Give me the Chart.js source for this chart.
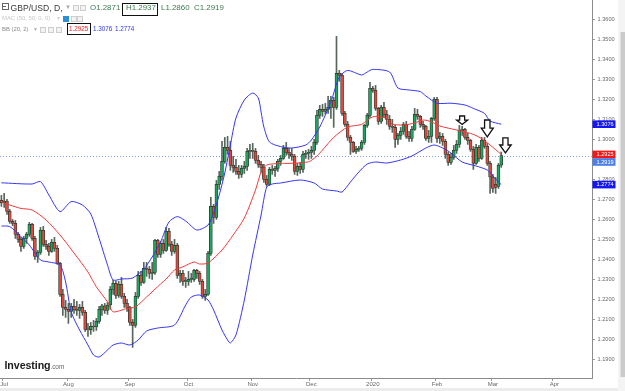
<!DOCTYPE html>
<html><head><meta charset="utf-8">
<script src="https://cdn.jsdelivr.net/npm/chart.js@4.4.1/dist/chart.umd.min.js"></script>
<style>
html,body{margin:0;padding:0;background:#fff;}
#wrap{position:relative;width:625px;height:391px;overflow:hidden;font-family:Arial,"Liberation Sans",sans-serif;}
#c{position:absolute;left:0;top:0;}
.t{position:absolute;white-space:nowrap;line-height:1;}
.ic{position:absolute;width:4px;height:4px;border:1px solid #cfcfcf;background:#f2f2f2;}
.bx{position:absolute;border:1.3px solid #111;}
</style></head>
<body>
<div id="wrap">
<canvas id="c" width="625" height="391"></canvas>
<div class="t" style="left:1.5px;top:3px;width:5px;height:5px;border:1px solid #666;"></div>
<div class="t" style="left:3px;top:6px;width:3px;height:1px;background:#666;"></div>
<div class="t" style="left:10.5px;top:3.5px;font-size:8.6px;color:#3a3a3a;">GBP/USD, D,</div>
<div class="t" style="left:65px;top:4px;font-size:6px;color:#aaa;">▼</div>
<div class="ic" style="left:73px;top:4.5px;"></div>
<div class="ic" style="left:80px;top:4.5px;"></div>
<div class="t" style="left:90px;top:4px;font-size:7.9px;color:#3c7a4e;">O1.2871</div>
<div class="bx" style="left:121.5px;top:2.5px;width:34px;height:11.5px;"></div>
<div class="t" style="left:126px;top:4px;font-size:7.9px;color:#3c7a4e;">H1.2937</div>
<div class="t" style="left:161px;top:4px;font-size:7.9px;color:#3c7a4e;">L1.2860</div>
<div class="t" style="left:194px;top:4px;font-size:7.9px;color:#3c7a4e;">C1.2919</div>
<div class="t" style="left:2px;top:15.5px;font-size:5.9px;color:#c6c6c6;">MAC (50, 50, 0, 0)</div>
<div class="t" style="left:56px;top:16px;font-size:5px;color:#ccc;">▼</div>
<div class="ic" style="left:63px;top:15.5px;border-color:#2b8fd8;background:#2b8fd8;"></div>
<div class="ic" style="left:70.5px;top:15.5px;"></div>
<div class="ic" style="left:77px;top:15.5px;"></div>
<div class="t" style="left:2px;top:26.5px;font-size:5.9px;color:#8a8a8a;">BB (20, 2)</div>
<div class="t" style="left:33px;top:27px;font-size:5px;color:#aaa;">▼</div>
<div class="ic" style="left:40px;top:26.5px;"></div>
<div class="ic" style="left:48px;top:26.5px;"></div>
<div class="ic" style="left:56px;top:26.5px;"></div>
<div class="bx" style="left:66.5px;top:22.5px;width:22px;height:10.5px;"></div>
<div class="t" style="left:69px;top:26px;font-size:6.3px;color:#ee2222;">1.2925</div>
<div class="t" style="left:93px;top:26px;font-size:6.3px;color:#2b39e8;">1.3076</div>
<div class="t" style="left:115px;top:26px;font-size:6.3px;color:#2b39e8;">1.2774</div>
<div class="t" style="left:4.5px;top:360px;font-size:10.7px;font-weight:bold;color:#1c1c1c;letter-spacing:-0.1px;">Investing<span style="font-size:6.5px;font-weight:normal;color:#666;">.com</span></div>
</div>
<script>
// ---- data ----
const startDate = '2019-06-28';
const slotCount = 212;
const monthNames = ['2020','Feb','Mar','Apr','May','Jun','Jul','Aug','Sep','Oct','Nov','Dec'];

const opens = [1.2695,1.2683,1.2692,1.2640,1.2590,1.2580,1.2525,1.2500,1.2465,1.2505,1.2525,1.2575,1.2505,1.2415,1.2435,1.2545,1.2475,1.2465,1.2440,1.2485,
1.2455,1.2380,1.2225,1.2160,1.2150,1.2140,1.2165,1.2150,1.2145,1.2160,1.2135,1.2050,1.2048,1.2065,1.2062,1.2090,1.2150,1.2168,1.2145,1.2172,
1.2250,1.2280,1.2220,1.2275,1.2215,1.2180,1.2160,1.2085,1.2070,1.2215,1.2320,1.2285,1.2355,1.2350,1.2330,1.2335,1.2495,1.2425,1.2480,1.2445,
1.2540,1.2475,1.2440,1.2470,1.2320,1.2330,1.2290,1.2290,1.2300,1.2300,1.2345,1.2330,1.2290,1.2215,1.2225,1.2430,1.2665,1.2610,1.2775,1.2815,
1.2890,1.2960,1.2945,1.2870,1.2860,1.2840,1.2825,1.2855,1.2865,1.2940,1.2945,1.2940,1.2895,1.2875,1.2860,1.2800,1.2775,1.2850,1.2845,1.2855,
1.2890,1.2905,1.2955,1.2935,1.2925,1.2915,1.2840,1.2865,1.2850,1.2925,1.2930,1.2935,1.2945,1.2985,1.3120,1.3150,1.3140,1.3150,1.3160,1.3195,
1.3160,1.3330,1.3320,1.3130,1.3075,1.3010,1.2985,1.2940,1.2950,1.2955,1.2985,1.3070,1.3120,1.3255,1.3245,1.3155,1.3090,1.3160,1.3125,1.3100,
1.3065,1.3060,1.3000,1.3020,1.3040,1.3075,1.3015,1.3005,1.3050,1.3125,1.3115,1.3075,1.3065,1.3005,1.3015,1.3105,1.3200,1.3005,1.3015,1.2990,
1.2925,1.2885,1.2910,1.2945,1.2975,1.3045,1.3050,1.3010,1.2995,1.2950,1.2880,1.2960,1.2905,1.2995,1.2965,1.2880,1.2812,1.2775,1.2765,1.2871];
const highs = [1.2720,1.2730,1.2700,1.2650,1.2600,1.2595,1.2535,1.2510,1.2515,1.2535,1.2585,1.2580,1.2515,1.2445,1.2560,1.2565,1.2495,1.2480,1.2500,1.2510,
1.2470,1.2385,1.2250,1.2195,1.2180,1.2180,1.2200,1.2190,1.2175,1.2190,1.2145,1.2080,1.2085,1.2095,1.2105,1.2165,1.2175,1.2180,1.2185,1.2265,
1.2295,1.2290,1.2290,1.2310,1.2230,1.2200,1.2165,1.2100,1.2235,1.2340,1.2340,1.2385,1.2385,1.2365,1.2385,1.2500,1.2500,1.2490,1.2500,1.2560,
1.2555,1.2490,1.2500,1.2480,1.2345,1.2345,1.2310,1.2340,1.2330,1.2350,1.2350,1.2340,1.2300,1.2250,1.2440,1.2710,1.2675,1.2795,1.2840,1.2990,
1.3010,1.3015,1.2990,1.2915,1.2900,1.2870,1.2870,1.2890,1.2955,1.2975,1.2980,1.2955,1.2920,1.2890,1.2875,1.2820,1.2860,1.2870,1.2865,1.2900,
1.2920,1.2970,1.2985,1.2955,1.2955,1.2925,1.2880,1.2885,1.2940,1.2945,1.2950,1.2965,1.3000,1.3145,1.3170,1.3175,1.3180,1.3215,1.3215,1.3210,
1.3515,1.3345,1.3330,1.3140,1.3090,1.3020,1.2990,1.2965,1.2965,1.2995,1.3075,1.3130,1.3285,1.3265,1.3270,1.3160,1.3170,1.3185,1.3145,1.3120,
1.3100,1.3070,1.3030,1.3060,1.3085,1.3090,1.3040,1.3065,1.3155,1.3150,1.3120,1.3090,1.3070,1.3045,1.3110,1.3210,1.3210,1.3035,1.3030,1.3000,
1.2935,1.2930,1.2970,1.2995,1.3070,1.3065,1.3055,1.3030,1.3000,1.2965,1.2975,1.2970,1.3010,1.3010,1.2980,1.2890,1.2825,1.2810,1.2880,1.2937];
const lows = [1.2665,1.2660,1.2625,1.2580,1.2568,1.2505,1.2485,1.2440,1.2455,1.2480,1.2515,1.2495,1.2400,1.2385,1.2425,1.2465,1.2450,1.2420,1.2435,1.2440,
1.2375,1.2215,1.2120,1.2110,1.2080,1.2110,1.2130,1.2120,1.2105,1.2120,1.2040,1.2015,1.2025,1.2040,1.2045,1.2080,1.2120,1.2130,1.2125,1.2150,
1.2225,1.2205,1.2210,1.2205,1.2160,1.2140,1.2070,1.1960,1.2060,1.2205,1.2270,1.2280,1.2315,1.2305,1.2300,1.2325,1.2410,1.2410,1.2430,1.2440,
1.2465,1.2420,1.2430,1.2305,1.2285,1.2270,1.2260,1.2270,1.2285,1.2290,1.2305,1.2275,1.2205,1.2195,1.2220,1.2420,1.2580,1.2600,1.2750,1.2795,
1.2880,1.2925,1.2845,1.2835,1.2825,1.2805,1.2810,1.2830,1.2845,1.2905,1.2905,1.2880,1.2860,1.2835,1.2785,1.2765,1.2770,1.2825,1.2815,1.2840,
1.2870,1.2900,1.2920,1.2905,1.2895,1.2825,1.2820,1.2830,1.2835,1.2905,1.2900,1.2905,1.2925,1.2975,1.3105,1.3115,1.3125,1.3130,1.3105,1.3060,
1.3150,1.3290,1.3120,1.3065,1.2995,1.2925,1.2935,1.2930,1.2940,1.2945,1.2975,1.3060,1.3110,1.3235,1.3145,1.3075,1.3080,1.3110,1.3075,1.3050,
1.3035,1.2960,1.2975,1.3000,1.3025,1.3005,1.2990,1.2990,1.3045,1.3100,1.3060,1.3050,1.2995,1.2985,1.2985,1.3095,1.2985,1.2980,1.2970,1.2905,
1.2870,1.2875,1.2900,1.2930,1.2960,1.3020,1.3000,1.2975,1.2940,1.2850,1.2875,1.2890,1.2900,1.2955,1.2870,1.2730,1.2735,1.2730,1.2755,1.2860];
const closes = [1.2683,1.2692,1.2640,1.2590,1.2580,1.2525,1.2500,1.2465,1.2505,1.2525,1.2575,1.2505,1.2415,1.2435,1.2545,1.2475,1.2465,1.2440,1.2485,1.2455,
1.2380,1.2225,1.2160,1.2150,1.2140,1.2165,1.2150,1.2145,1.2160,1.2135,1.2050,1.2048,1.2065,1.2062,1.2090,1.2150,1.2168,1.2145,1.2172,1.2250,
1.2280,1.2220,1.2275,1.2215,1.2180,1.2160,1.2085,1.2070,1.2215,1.2320,1.2285,1.2355,1.2350,1.2330,1.2335,1.2495,1.2425,1.2480,1.2445,1.2540,
1.2475,1.2440,1.2470,1.2320,1.2330,1.2290,1.2290,1.2300,1.2300,1.2345,1.2330,1.2290,1.2215,1.2225,1.2430,1.2665,1.2610,1.2775,1.2815,1.2890,
1.2960,1.2945,1.2870,1.2860,1.2840,1.2825,1.2855,1.2865,1.2940,1.2945,1.2940,1.2895,1.2875,1.2860,1.2800,1.2775,1.2850,1.2845,1.2855,1.2890,
1.2905,1.2955,1.2935,1.2925,1.2915,1.2840,1.2865,1.2850,1.2925,1.2930,1.2935,1.2945,1.2985,1.3120,1.3150,1.3140,1.3150,1.3160,1.3195,1.3160,
1.3330,1.3320,1.3130,1.3075,1.3010,1.2985,1.2940,1.2950,1.2955,1.2985,1.3070,1.3120,1.3255,1.3245,1.3155,1.3090,1.3160,1.3125,1.3100,1.3065,
1.3060,1.3000,1.3020,1.3040,1.3075,1.3015,1.3005,1.3050,1.3125,1.3115,1.3075,1.3065,1.3005,1.3015,1.3105,1.3200,1.3005,1.3015,1.2990,1.2925,
1.2885,1.2910,1.2945,1.2975,1.3045,1.3050,1.3010,1.2995,1.2950,1.2880,1.2960,1.2905,1.2995,1.2965,1.2880,1.2812,1.2755,1.2760,1.2870,1.2919];

const upperSlots = [0,11,14,17,21,25,29,32,35,38,40,43,47,51,54,57,60,63,66,70,74,76,78,80,82,84,87,90,92,93,94,96,100,104,109,111,114,118,121,124,129,131,133,139,142,146,150,152,156,161,166,169,173,175,179];
const upperVals  = [1.2783,1.2777,1.2789,1.2722,1.2639,1.2689,1.2672,1.2627,1.2505,1.2372,1.2297,1.2302,1.2307,1.2352,1.2412,1.2487,1.2587,1.2614,1.2592,1.2547,1.2572,1.2632,1.2722,1.2832,1.2972,1.3107,1.3197,1.3232,1.3207,1.3137,1.3062,1.2987,1.2964,1.2957,1.2972,1.2997,1.3062,1.3187,1.3312,1.3345,1.3322,1.3337,1.3350,1.3337,1.3257,1.3247,1.3239,1.3217,1.3181,1.3181,1.3172,1.3155,1.3130,1.3092,1.3076];
const midSlots = [0,3,7,11,16,21,26,31,34,38,40,45,48,52,57,59,62,65,69,71,74,79,83,87,91,93,95,100,103,110,113,115,119,124,129,133,138,140,144,148,151,154,157,163,168,171,175,179];
const midVals  = [1.2688,1.2672,1.2655,1.2647,1.2597,1.2522,1.2432,1.2337,1.2263,1.2188,1.2138,1.2155,1.2162,1.2212,1.2277,1.2302,1.2347,1.2363,1.2387,1.2377,1.2382,1.2447,1.2522,1.2607,1.2747,1.2837,1.2872,1.2880,1.2880,1.2888,1.2917,1.2947,1.3010,1.3062,1.3075,1.3113,1.3105,1.3077,1.3072,1.3082,1.3097,1.3088,1.3067,1.3047,1.3030,1.3012,1.2972,1.2925];
const lowerSlots = [0,3,7,10,14,17,21,23,25,28,31,33,35,38,40,43,46,49,52,56,62,66,68,71,74,76,79,81,82,84,87,90,93,95,97,100,107,112,115,120,122,125,128,131,134,138,143,147,152,155,158,161,165,170,174,176,178,179];
const lowerVals  = [1.2567,1.2564,1.2514,1.2472,1.2397,1.2387,1.2372,1.2287,1.2137,1.2047,1.1972,1.1922,1.1912,1.1947,1.1972,1.1982,1.1972,1.1997,1.2042,1.2057,1.2072,1.2172,1.2212,1.2222,1.2197,1.2147,1.2047,1.1997,1.1982,1.2022,1.2197,1.2422,1.2622,1.2762,1.2777,1.2782,1.2797,1.2782,1.2752,1.2742,1.2737,1.2787,1.2837,1.2877,1.2887,1.2882,1.2897,1.2917,1.2957,1.2972,1.2957,1.2932,1.2887,1.2867,1.2847,1.2817,1.2787,1.2774];

// hand-drawn down arrows (candle slot, top value, tip value)
const arrowSlots = [165, 174, 180.5];
const arrowTop   = [1.3117, 1.3097, 1.3008];
const arrowTip   = [1.3075, 1.3013, 1.2933];

// ---- styles ----
const GREEN = '#1aa85a', RED = '#e6463b', EDGE = '#2e3a33', WICK = '#56665b';
const BLUE = '#3535f5', MIDRED = '#f23a3a';
const arrowWidths = [11, 12, 11.5];

// ---- categories (weekday calendar) ----
const categories = [];
{
  const d = new Date(startDate + 'T00:00:00Z');
  while (categories.length < slotCount) {
    const wd = d.getUTCDay();
    if (wd !== 0 && wd !== 6) categories.push(d.toISOString().slice(0, 10));
    d.setUTCDate(d.getUTCDate() + 1);
  }
}
function monthName(i) {
  if (i === 0) return '';
  const m = parseInt(categories[i].slice(5, 7), 10), pm = parseInt(categories[i - 1].slice(5, 7), 10);
  if (m === pm) return '';
  return monthNames[m - 1];
}

const wickData = opens.map((o, i) => [lows[i], highs[i]]);
const bodyData = opens.map((o, i) => [o, closes[i]]);
const bodyColors = opens.map((o, i) => closes[i] >= o ? GREEN : RED);
const pts = (slots, vals) => slots.map((s, k) => ({ x: categories[s], y: vals[k] }));

const yMin = 1.1807, yMax = 1.3697;

const deco = {
  id: 'deco',
  beforeDatasetsDraw(chart) {
    const { ctx, chartArea: a, scales: { y } } = chart;
    const yy = Math.round(y.getPixelForValue(closes[closes.length - 1])) + 0.5;
    ctx.save();
    ctx.strokeStyle = '#7d9be0';
    ctx.lineWidth = 1;
    ctx.setLineDash([1, 2]);
    ctx.beginPath(); ctx.moveTo(a.left, yy); ctx.lineTo(a.right, yy); ctx.stroke();
    ctx.restore();
  },
  afterDatasetsDraw(chart) {
    const { ctx, scales: { x, y } } = chart;
    ctx.save();
    arrowSlots.forEach((s, k) => {
      const cx = x.getPixelForValue(s);
      const t = y.getPixelForValue(arrowTop[k]);
      const b = y.getPixelForValue(arrowTip[k]);
      const w = arrowWidths[k], h = b - t;
      const sw = w * 0.45, hy = t + h * 0.48;
      ctx.beginPath();
      ctx.moveTo(cx - sw / 2, t);
      ctx.lineTo(cx + sw / 2, t);
      ctx.lineTo(cx + sw / 2, hy);
      ctx.lineTo(cx + w / 2, hy);
      ctx.lineTo(cx, b);
      ctx.lineTo(cx - w / 2, hy);
      ctx.lineTo(cx - sw / 2, hy);
      ctx.closePath();
      ctx.fillStyle = '#fff';
      ctx.fill();
      ctx.strokeStyle = '#111';
      ctx.lineWidth = 1.3;
      ctx.stroke();
    });
    ctx.restore();
  },
  afterDraw(chart) {
    const { ctx, chartArea: a, scales: { y } } = chart;
    ctx.save();
    ctx.fillStyle = '#f4f4f4'; ctx.fillRect(618, 0, 7, 391);
    ctx.fillStyle = '#cbcbcb'; ctx.fillRect(620.5, 32, 4.5, 345);
    ctx.fillStyle = '#ececec'; ctx.fillRect(0, 388, 618, 3);
    const tags = [
      { v: upperVals[upperVals.length - 1], c: '#1616f0' },
      { v: midVals[midVals.length - 1], c: '#f01818' },
      { v: closes[closes.length - 1], c: '#4d80e6' },
      { v: lowerVals[lowerVals.length - 1], c: '#1616f0' }
    ];
    const h = 7.6;
    let prev = -100;
    tags.forEach(tg => {
      let cy = y.getPixelForValue(tg.v);
      if (cy < prev + h) cy = prev + h;
      prev = cy;
      ctx.fillStyle = tg.c;
      ctx.fillRect(a.right + 0.5, cy - h / 2, 23, h);
      ctx.fillStyle = '#fff';
      ctx.font = '5.6px Arial, "Liberation Sans", sans-serif';
      ctx.textBaseline = 'middle';
      ctx.textAlign = 'left';
      ctx.fillText(tg.v.toFixed(4), a.right + 4.5, cy + 0.3);
    });
    ctx.restore();
  }
};

new Chart(document.getElementById('c'), {
  type: 'bar',
  data: {
    labels: categories,
    datasets: [
      { type: 'line', label: 'BB upper', data: pts(upperSlots, upperVals), borderColor: BLUE, borderWidth: 1, pointRadius: 0, tension: 0.25, order: 0 },
      { type: 'line', label: 'BB basis', data: pts(midSlots, midVals), borderColor: MIDRED, borderWidth: 1, pointRadius: 0, tension: 0.25, order: 0 },
      { type: 'line', label: 'BB lower', data: pts(lowerSlots, lowerVals), borderColor: BLUE, borderWidth: 1, pointRadius: 0, tension: 0.25, order: 0 },
      { label: 'body', data: bodyData, backgroundColor: bodyColors, borderColor: EDGE, borderWidth: 0.8, borderSkipped: false, barThickness: 3, minBarLength: 1, grouped: false, order: 1 },
      { label: 'wick', data: wickData, backgroundColor: WICK, borderWidth: 0, barThickness: 1, grouped: false, order: 2 }
    ]
  },
  options: {
    responsive: false,
    animation: false,
    devicePixelRatio: 1,
    events: [],
    layout: { padding: 0 },
    plugins: { legend: { display: false }, tooltip: { enabled: false } },
    scales: {
      x: {
        type: 'category',
        offset: true,
        grid: {
          drawOnChartArea: false, tickLength: 3,
          tickColor: c => (c.index !== undefined && monthName(c.index)) ? '#999' : 'rgba(0,0,0,0)'
        },
        border: { display: true, color: '#8c8c8c' },
        ticks: {
          autoSkip: false, maxRotation: 0, minRotation: 0, padding: 0,
          color: '#666', font: { size: 6, family: 'Arial, "Liberation Sans", sans-serif' },
          callback: (v, i) => monthName(i)
        },
        afterFit: s => { s.height = 13; s.paddingLeft = 0; s.paddingRight = 0; }
      },
      y: {
        position: 'right',
        min: yMin, max: yMax,
        grid: { drawOnChartArea: false, tickLength: 3, tickColor: '#9a9a9a' },
        border: { display: true, color: '#8c8c8c' },
        ticks: {
          stepSize: 0.01, includeBounds: false, padding: 2.5,
          color: '#6a6a6a', font: { size: 5.6, family: 'Arial, "Liberation Sans", sans-serif' },
          callback: v => v.toFixed(4)
        },
        afterFit: s => { s.width = 33; s.paddingTop = 0; s.paddingBottom = 0; }
      }
    }
  },
  plugins: [deco]
});
</script>
</body></html>
